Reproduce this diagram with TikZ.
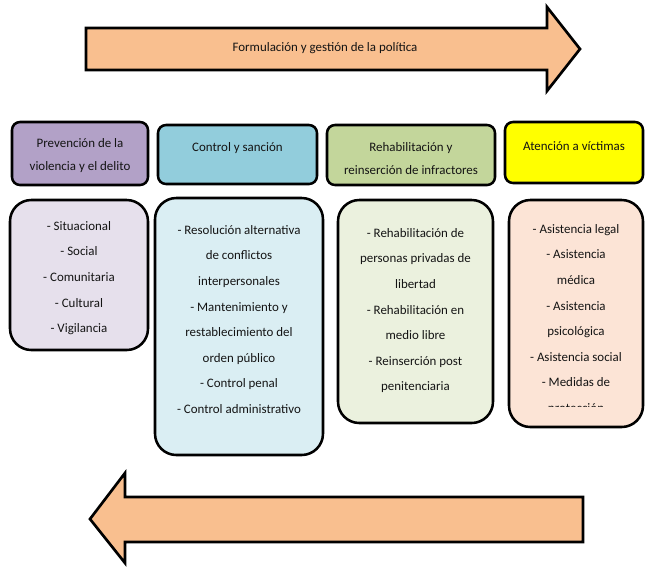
\documentclass[tikz,border=0pt]{standalone}
\usepackage{fontspec}
\setmainfont{Carlito}
\definecolor{arrowcol}{HTML}{F9BF8F}
\definecolor{hPurple}{HTML}{B2A1C7}
\definecolor{hBlue}{HTML}{92CDDC}
\definecolor{hGreen}{HTML}{C3D69B}
\definecolor{hYellow}{HTML}{FFFF00}
\definecolor{cPurple}{HTML}{E6E0EC}
\definecolor{cBlue}{HTML}{DAEEF3}
\definecolor{cGreen}{HTML}{EBF1DE}
\definecolor{cPeach}{HTML}{FCE4D6}
\definecolor{textcol}{HTML}{141414}
\begin{document}
\begin{tikzpicture}[x=0.75pt,y=-0.75pt,
  hdr/.style={draw=black, line width=1.9pt, rounded corners=6pt, inner sep=0pt},
  cbox/.style={draw=black, line width=1.9pt, rounded corners=16pt, inner sep=0pt},
  htxt/.style={font=\fontsize{9.7}{17.6}\selectfont, align=center, text=textcol, inner sep=0pt, anchor=north},
  ctxt/.style={font=\fontsize{9.7}{19.2}\selectfont, align=center, text=textcol, inner sep=0pt, anchor=north},
  bigarrow/.style={fill=arrowcol, draw=black, line width=2pt, line join=miter}
]
\useasboundingbox (0,0) rectangle (645,569);
\fill[white] (0,0) rectangle (645,569);

% top arrow
\draw[bigarrow] (86,28) -- (547,28) -- (547,7) -- (580,49) -- (547,91) -- (547,70) -- (86,70) -- cycle;
\node[font=\fontsize{9.7}{12}\selectfont, text=textcol, inner sep=0pt] (toptext) at (325,48) {Formulación y gestión de la política};

% bottom arrow
\draw[bigarrow] (583,497) -- (125,497) -- (125,473) -- (90,519) -- (125,563) -- (125,542) -- (583,542) -- cycle;

% headers
\node[hdr, fill=hPurple, minimum width=102pt, minimum height=47.25pt] (h1) at (80,153.5) {};
\node[hdr, fill=hBlue, minimum width=119.25pt, minimum height=44.25pt] (h2) at (237.5,154.5) {};
\node[hdr, fill=hGreen, minimum width=126pt, minimum height=45pt] (h3) at (411,155) {};
\node[hdr, fill=hYellow, minimum width=103.5pt, minimum height=45.75pt] (h4) at (574,152.5) {};

\node[htxt] (h1t) at (80,138) {Prevención de la\\violencia y el delito};
\node[htxt] (h2t) at (237.5,142) {Control y sanción};
\node[htxt] (h3t) at (411,142) {Rehabilitación y\\reinserción de infractores};
\node[htxt] (h4t) at (574,141) {Atención a víctimas};

% content boxes
\node[cbox, fill=cPurple, minimum width=103.5pt, minimum height=112.5pt] (c1) at (79,275) {};
\node[cbox, fill=cBlue, minimum width=126pt, minimum height=192.75pt] (c2) at (239,326.5) {};
\node[cbox, fill=cGreen, minimum width=116.25pt, minimum height=167.25pt] (c3) at (415.5,311.5) {};
\node[cbox, fill=cPeach, minimum width=100.5pt, minimum height=170.25pt] (c4) at (576,313.5) {};

\node[ctxt] (c1t) at (79,221) {- Situacional\\- Social\\- Comunitaria\\- Cultural\\- Vigilancia};
\node[ctxt] (c2t) at (239,225) {- Resolución alternativa\\de conflictos\\interpersonales\\- Mantenimiento y\\restablecimiento del\\orden público\\- Control penal\\- Control administrativo};
\node[ctxt] (c3t) at (415.5,228) {- Rehabilitación de\\personas privadas de\\libertad\\- Rehabilitación en\\medio libre\\- Reinserción post\\penitenciaria};
\begin{scope}
\clip (509,200) rectangle (643,406.5);
\node[ctxt] (c4t) at (576,224) {- Asistencia legal\\- Asistencia\\médica\\- Asistencia\\psicológica\\- Asistencia social\\- Medidas de\\protección};
\end{scope}
\end{tikzpicture}
\end{document}
